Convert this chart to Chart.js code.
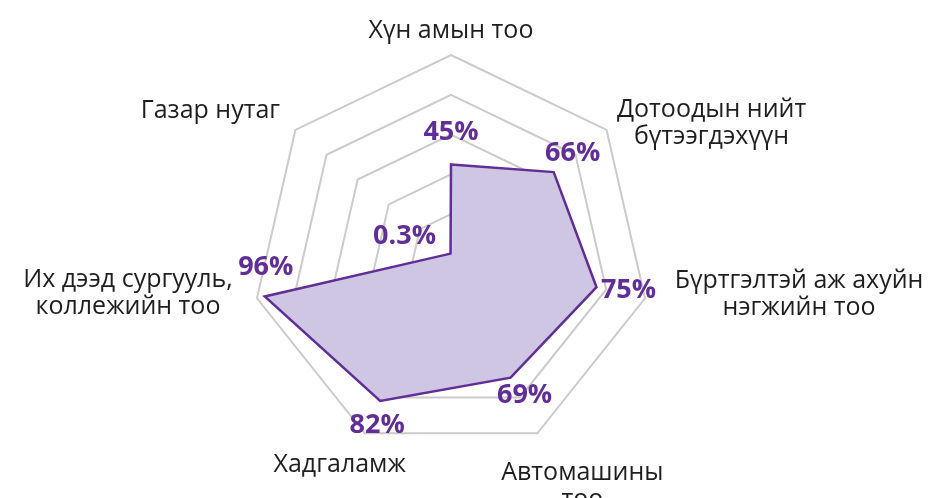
<!DOCTYPE html>
<html>
<head>
<meta charset="utf-8">
<script src="https://cdn.jsdelivr.net/npm/chart.js@4"></script>
<style>
  html, body { margin: 0; padding: 0; background: #ffffff; }
  #wrap { width: 931px; height: 498px; }
</style>
</head>
<body>
<div id="wrap"><canvas id="c" width="931" height="498"></canvas></div>
<script>
// Indicator names (axes of the radar)
const categories = [
  ['Хүн амын тоо'],
  ['Дотоодын нийт', 'бүтээгдэхүүн'],
  ['Бүртгэлтэй аж ахуйн', 'нэгжийн тоо'],
  ['Автомашины', 'тоо'],
  ['Хадгаламж'],
  ['Их дээд сургууль,', 'коллежийн тоо'],
  ['Газар нутаг']
];

// Share of the national total, percent
const shareValues = [45, 66, 75, 69, 82, 96, 0.3];

// Radial scale ticks (grid rings)
const tickValues = [0, 20, 40, 60, 80, 100];

const PURPLE = 'rgb(96, 46, 150)';
const LABEL_FONT = '25px "Open Sans", "Noto Sans", sans-serif';
const VALUE_FONT = 'bold 27px "Open Sans", "Noto Sans", sans-serif';

// Axis name placement relative to the outer ring vertex: [dx, dy] of the
// first line's centre/baseline
const axisLabelShift = [[0, -17], [105, -13], [154, -10], [45, 47], [-25, 39], [-129, -11], [-85, -12]];
// Value label placement relative to each data point
const valueLabelShift = [[0, -32], [19, -19], [32, 3], [14, 18], [-3, 24], [1, -29], [-46, -17]];

const axisLabelsPlugin = {
  id: 'axisLabels',
  afterDraw(chart) {
    const r = chart.scales.r;
    const ctx = chart.ctx;
    ctx.save();
    ctx.font = LABEL_FONT;
    ctx.fillStyle = '#1e1e1e';
    ctx.textAlign = 'center';
    ctx.textBaseline = 'alphabetic';
    categories.forEach((lines, i) => {
      const p = r.getPointPosition(i, r.getDistanceFromCenterForValue(tickValues[tickValues.length - 1]));
      const [dx, dy] = axisLabelShift[i];
      lines.forEach((t, k) => ctx.fillText(t, p.x + dx, p.y + dy + k * 27));
    });
    ctx.restore();
  }
};

const valueLabelsPlugin = {
  id: 'valueLabels',
  afterDatasetsDraw(chart) {
    const meta = chart.getDatasetMeta(0);
    const ctx = chart.ctx;
    ctx.save();
    ctx.font = VALUE_FONT;
    ctx.fillStyle = PURPLE;
    ctx.textAlign = 'center';
    ctx.textBaseline = 'middle';
    meta.data.forEach((pt, i) => {
      const [dx, dy] = valueLabelShift[i];
      ctx.fillText(shareValues[i] + '%', pt.x + dx, pt.y + dy);
    });
    ctx.restore();
  }
};

new Chart(document.getElementById('c'), {
  type: 'radar',
  data: {
    labels: categories,
    datasets: [{
      data: shareValues,
      borderColor: PURPLE,
      backgroundColor: 'rgb(207, 198, 227)',
      borderWidth: 2.5,
      fill: true,
      pointRadius: 0,
      pointHoverRadius: 0,
      tension: 0
    }]
  },
  options: {
    responsive: false,
    animation: false,
    events: [],
    layout: { padding: { top: 55, bottom: 45, left: 252, right: 281 } },
    plugins: { legend: { display: false }, tooltip: { enabled: false }, title: { display: false } },
    scales: {
      r: {
        min: tickValues[0],
        max: tickValues[tickValues.length - 1],
        ticks: { display: false, stepSize: tickValues[1] - tickValues[0] },
        grid: { color: '#cbcbcb', lineWidth: 2, circular: false },
        angleLines: { display: false },
        pointLabels: { display: false }
      }
    }
  },
  plugins: [axisLabelsPlugin, valueLabelsPlugin]
});
</script>
</body>
</html>
